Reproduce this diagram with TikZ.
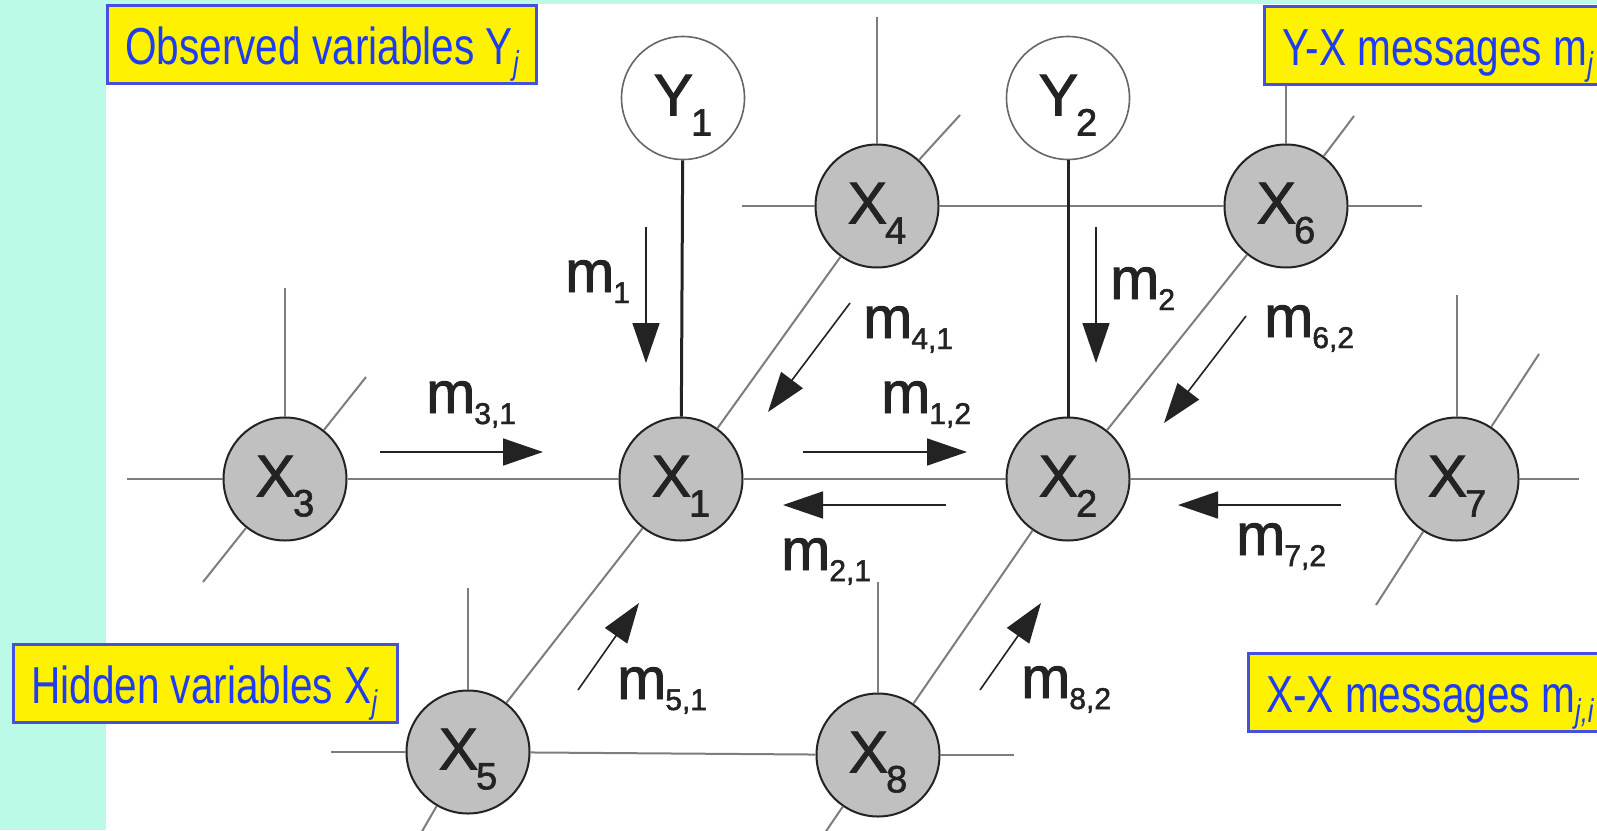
\documentclass[tikz,border=0pt]{standalone}
\usepackage{fontspec}
\usetikzlibrary{arrows.meta}
\newfontfamily\boxfont[FakeStretch=0.78]{Liberation Sans}
\newfontfamily\gfont[FakeBold=1.6]{Liberation Sans}
\definecolor{mint}{RGB}{187,250,230}
\definecolor{boxblue}{RGB}{70,80,220}
\definecolor{txtblue}{RGB}{30,60,240}
\definecolor{nodegray}{RGB}{192,192,192}
\definecolor{edgegray}{RGB}{125,125,125}
\definecolor{ink}{RGB}{35,35,35}
\newcommand\xsub[2]{\rule{0pt}{55pt}#1\kern-2pt\raisebox{-20pt}{\fontsize{38}{38}\selectfont #2}}
\newcommand\msub[1]{m\kern-1pt\raisebox{-11pt}{\fontsize{30}{30}\selectfont #1}}
\newcommand\bsub[1]{\raisebox{-10pt}{\fontsize{33}{33}\selectfont\itshape #1}}
\tikzset{
  xnode/.style={circle, draw=ink, line width=2pt, fill=nodegray, minimum size=123pt, inner sep=0pt,
    font=\gfont\fontsize{59}{59}\selectfont, text=ink},
  ynode/.style={xnode, draw=black!60, line width=1.6pt, fill=white},
  edge/.style={draw=edgegray, line width=2pt},
  yxline/.style={draw=ink, line width=3pt},
  msg/.style={draw=ink, line width=1.6pt, -{Triangle[length=40pt,width=27pt]}},
  mlab/.style={anchor=base west, inner sep=0pt, font=\gfont\fontsize{59}{59}\selectfont, text=ink},
  infobox/.style={draw=boxblue, line width=2.5pt, fill=yellow, anchor=north west, inner xsep=18pt,
    inner ysep=0pt, text height=59pt, text depth=19pt, font=\boxfont\fontsize{52}{52}\selectfont, text=txtblue}
}
\begin{document}
\begin{tikzpicture}[x=1pt,y=-1pt]
\useasboundingbox (0,0) rectangle (1597,830);
\fill[mint] (0,0) rectangle (1597,830);
\fill[white] (106,4) rectangle (1597,830);

% nodes
\node[ynode] (Y1) at (683,98) {\xsub{Y}{1}};
\node[ynode] (Y2) at (1068,98) {\xsub{Y}{2}};
\node[xnode] (X4) at (877,206) {\xsub{X}{4}};
\node[xnode] (X6) at (1286,206) {\xsub{X}{6}};
\node[xnode] (X3) at (285,479) {\xsub{X}{3}};
\node[xnode] (X1) at (681,479) {\xsub{X}{1}};
\node[xnode] (X2) at (1068,479) {\xsub{X}{2}};
\node[xnode] (X7) at (1457,479) {\xsub{X}{7}};
\node[xnode] (X5) at (468,752) {\xsub{X}{5}};
\node[xnode] (X8) at (878,755) {\xsub{X}{8}};

% free ends of edges
\coordinate (x4w) at (742,206);
\coordinate (x6e) at (1422,206);
\coordinate (x3w) at (127,479);
\coordinate (x7e) at (1579,479);
\coordinate (x5w) at (331,752);
\coordinate (x8e) at (1014,755);
\coordinate (x3n) at (285,288);
\coordinate (x4n) at (877,17);
\coordinate (x6n) at (1286,60);
\coordinate (x7n) at (1457,295);
\coordinate (x5n) at (468,588);
\coordinate (x8n) at (878,582);
\coordinate (x3ne) at (366,377);
\coordinate (x3sw) at (203,582);
\coordinate (x4ne) at (960,115);
\coordinate (x6ne) at (1354,116);
\coordinate (x7ne) at (1539,354);
\coordinate (x7sw) at (1376,605);
\coordinate (x5sw) at (417,840);
\coordinate (x8sw) at (820,840);

% edges
\draw[edge] (x3w) -- (X3);
\draw[edge] (X3) -- (X1);
\draw[edge] (X1) -- (X2);
\draw[edge] (X2) -- (X7);
\draw[edge] (X7) -- (x7e);
\draw[edge] (x4w) -- (X4);
\draw[edge] (X4) -- (X6);
\draw[edge] (X6) -- (x6e);
\draw[edge] (x5w) -- (X5);
\draw[edge] (X5) -- (X8);
\draw[edge] (X8) -- (x8e);
\draw[edge] (X3) -- (x3n);
\draw[edge] (X4) -- (x4n);
\draw[edge] (X6) -- (x6n);
\draw[edge] (X7) -- (x7n);
\draw[edge] (X5) -- (x5n);
\draw[edge] (X8) -- (x8n);
\draw[edge] (X3) -- (x3ne);
\draw[edge] (X3) -- (x3sw);
\draw[edge] (X4) -- (x4ne);
\draw[edge] (X6) -- (x6ne);
\draw[edge] (X7) -- (x7ne);
\draw[edge] (X7) -- (x7sw);
\draw[edge] (X5) -- (x5sw);
\draw[edge] (X8) -- (x8sw);
\draw[edge] (X1) -- (X4);
\draw[edge] (X2) -- (X6);
\draw[edge] (X5) -- (X1);
\draw[edge] (X8) -- (X2);
\draw[yxline] (Y1) -- (X1);
\draw[yxline] (Y2) -- (X2);

% message arrows
\coordinate (a1t) at (646,227);   \coordinate (a1h) at (646,363);
\coordinate (a2t) at (1096,227);  \coordinate (a2h) at (1096,363);
\coordinate (a31t) at (380,452);  \coordinate (a31h) at (543,452);
\coordinate (a12t) at (803,452);  \coordinate (a12h) at (967,452);
\coordinate (a21t) at (946,505);  \coordinate (a21h) at (783,505);
\coordinate (a72t) at (1341,505); \coordinate (a72h) at (1178,505);
\coordinate (a41t) at (850,303);  \coordinate (a41h) at (768,412);
\coordinate (a62t) at (1246,316); \coordinate (a62h) at (1164,423);
\coordinate (a51t) at (578,690);  \coordinate (a51h) at (639,603);
\coordinate (a82t) at (980,690);  \coordinate (a82h) at (1041,603);
\draw[msg] (a1t) -- (a1h);
\draw[msg] (a2t) -- (a2h);
\draw[msg] (a31t) -- (a31h);
\draw[msg] (a12t) -- (a12h);
\draw[msg] (a21t) -- (a21h);
\draw[msg] (a72t) -- (a72h);
\draw[msg] (a41t) -- (a41h);
\draw[msg] (a62t) -- (a62h);
\draw[msg] (a51t) -- (a51h);
\draw[msg] (a82t) -- (a82h);

% message labels
\node[mlab] (l1) at (565,292) {\msub{1}};
\node[mlab] (l2) at (1110,299) {\msub{2}};
\node[mlab] (l31) at (426,413) {\msub{3,1}};
\node[mlab] (l41) at (863,338) {\msub{4,1}};
\node[mlab] (l12) at (881,413) {\msub{1,2}};
\node[mlab] (l21) at (781,570) {\msub{2,1}};
\node[mlab] (l62) at (1264,337) {\msub{6,2}};
\node[mlab] (l72) at (1236,555) {\msub{7,2}};
\node[mlab] (l51) at (617,699) {\msub{5,1}};
\node[mlab] (l82) at (1021,698) {\msub{8,2}};

% info boxes
\node[infobox] (obs) at (106,4) {\makebox[393pt][l]{Observed variables Y\bsub{j}}};
\node[infobox] (hid) at (12,643) {\makebox[348pt][l]{Hidden variables X\bsub{j}}};
\node[infobox] (yxm) at (1263,5) {\makebox[340pt][l]{Y-X messages m\bsub{j}}};
\node[infobox] (xxm) at (1247,652) {\makebox[340pt][l]{X-X messages m\bsub{j,i}}};
\end{tikzpicture}
\end{document}
